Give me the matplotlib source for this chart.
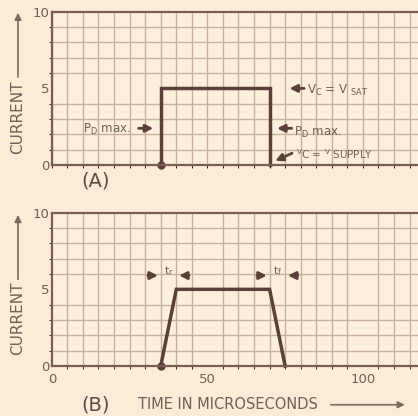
import numpy as np
import matplotlib.pyplot as plt

# pulse (A): ideal switching
t_a = [35, 35, 70, 70]
i_a = [0, 5, 5, 0]
# pulse (B): with rise and fall times
t_b = [35, 40, 70, 75]
i_b = [0, 5, 5, 0]

x_ticks = [0, 50, 100]
y_ticks = [0, 5, 10]

bg = '#fbecd8'
grid_c = '#c9aea2'
ink = '#5a4038'
txt = '#6e5f57'

fig = plt.figure(figsize=(4.18, 4.16), dpi=100, facecolor=bg)
axA = fig.add_axes([0.124, 0.603, 0.876, 0.369])
axB = fig.add_axes([0.124, 0.120, 0.876, 0.369])

for ax in (axA, axB):
    ax.set_facecolor('#fcf0dc')
    ax.set_xlim(0, 117.7)
    ax.set_ylim(0, 10)
    ax.set_xticks(np.arange(0, 120, 5), minor=True)
    ax.set_yticks(np.arange(0, 11, 1), minor=True)
    ax.grid(which='minor', color=grid_c, lw=1.0)
    ax.set_axisbelow(True)
    ax.set_yticks(y_ticks)
    ax.set_yticklabels([str(v) for v in y_ticks], color=txt, fontsize=9.5)
    ax.tick_params(length=0, pad=2)
    for s in ['left', 'bottom', 'top']:
        ax.spines[s].set_color('#7a5e55')
        ax.spines[s].set_linewidth(1.6)
    ax.spines['right'].set_visible(False)

axA.set_xticks([])
axB.set_xticks(x_ticks)
axB.set_xticklabels([str(v) for v in x_ticks], color=txt, fontsize=9.5)
axB.tick_params(axis='x', pad=5)

# curves
axA.plot(t_a, i_a, color=ink, lw=2.5, solid_joinstyle='miter', clip_on=False)
axA.plot([35], [0], 'o', color=ink, ms=5, clip_on=False)
axB.plot(t_b, i_b, color=ink, lw=2.5, solid_joinstyle='miter', clip_on=False)
axB.plot([35], [0], 'o', color=ink, ms=5, clip_on=False)

arr = dict(arrowstyle='-|>', color=ink, lw=2.0, mutation_scale=11)

# annotations on (A)
axA.annotate('', xy=(33.5, 2.4), xytext=(27, 2.4), arrowprops=arr)
axA.text(10, 2.35, 'P$_\\mathregular{D}$ max.', color=txt, fontsize=8.5, va='center')
axA.annotate('', xy=(71.5, 2.4), xytext=(78, 2.4), arrowprops=arr)
axA.text(78, 2.1, 'P$_\\mathregular{D}$ max.', color=txt, fontsize=8.5, va='center')
axA.annotate('', xy=(75.5, 5), xytext=(82, 5), arrowprops=arr)
axA.text(82, 4.85, 'V$_\\mathregular{C}$ = V $_\\mathregular{SAT}$', color=txt, fontsize=8.5, va='center')
axA.annotate('', xy=(71, 0.2), xytext=(78, 0.85), arrowprops=arr)
axA.text(78.5, 0.7, '$^\\mathregular{V}$C = $^\\mathregular{V}$ SUPPLY', color=txt, fontsize=7.5, va='center')

# annotations on (B)
for x0, x1, lab in [(35, 40, 't$_\\mathregular{r}$'), (70, 75, 't$_\\mathregular{f}$')]:
    axB.annotate('', xy=(x0, 5.9), xytext=(x0 - 5, 5.9), arrowprops=arr)
    axB.annotate('', xy=(x1, 5.9), xytext=(x1 + 5, 5.9), arrowprops=arr)
    axB.text((x0 + x1) / 2, 6.2, lab, color=txt, fontsize=8, ha='center', va='center')

# panel labels and axis titles
fig.text(0.228, 0.565, '(A)', color='#5a4a44', fontsize=14, ha='center', va='center')
fig.text(0.228, 0.027, '(B)', color='#5a4a44', fontsize=14, ha='center', va='center')
fig.text(0.33, 0.027, 'TIME IN MICROSECONDS', color=txt, fontsize=10.5, ha='left', va='center')
thin = dict(arrowstyle='-|>', color='#7d6b62', lw=1.2, mutation_scale=10)
axB.annotate('', xy=(0.975, 0.027), xytext=(0.785, 0.027), xycoords='figure fraction',
             arrowprops=thin, annotation_clip=False)

for ax, yc, ybase, ytop in [(axA, 0.718, 0.808, 0.976), (axB, 0.235, 0.322, 0.49)]:
    fig.text(0.043, yc, 'CURRENT', color=txt, fontsize=11, rotation=90, ha='center', va='center')
    ax.annotate('', xy=(0.043, ytop), xytext=(0.043, ybase), xycoords='figure fraction',
                arrowprops=thin, annotation_clip=False)

fig.savefig('out.png', dpi=100, facecolor=bg)
